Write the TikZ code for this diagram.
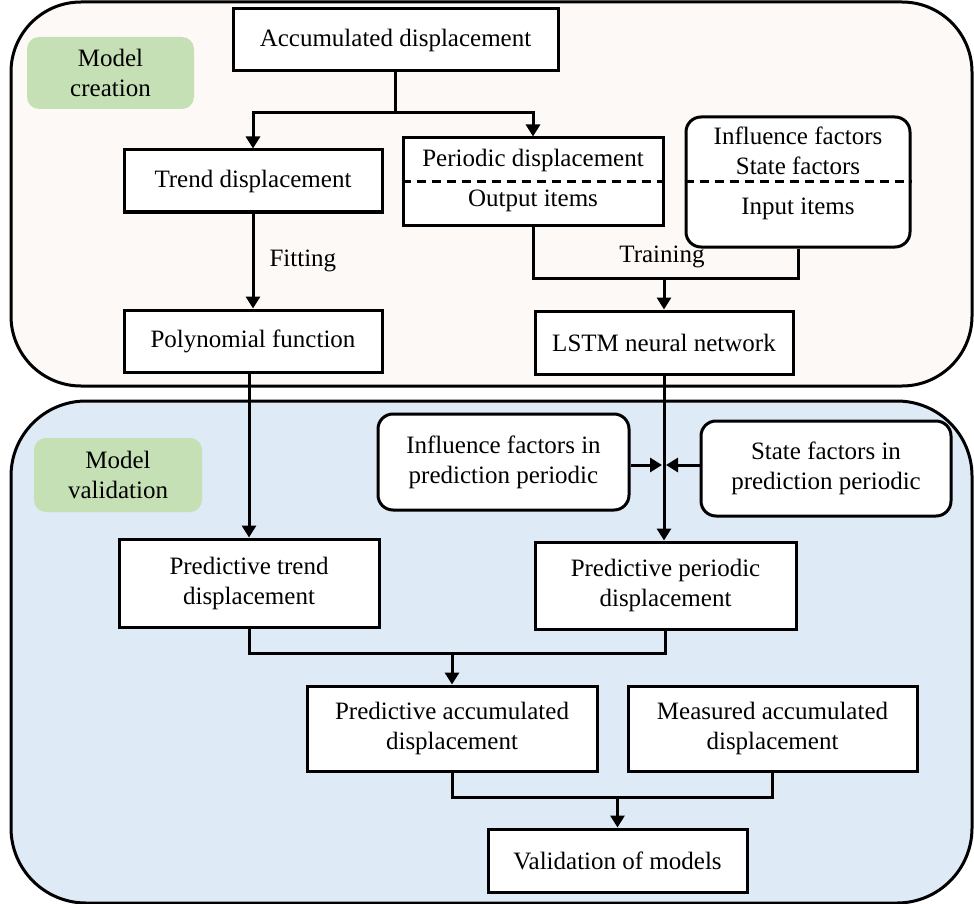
\documentclass[tikz,border=0pt]{standalone}
\usepackage{fontspec}
\setmainfont{Liberation Serif}
\usetikzlibrary{arrows.meta,calc}
\definecolor{topfill}{HTML}{FDF9F6}
\definecolor{botfill}{HTML}{DEEAF6}
\definecolor{tagfill}{HTML}{C5E0B4}
\begin{document}
\begin{tikzpicture}[x=1pt,y=-1pt, font=\fontsize{25}{30}\selectfont,
 box/.style={draw, line width=3pt, fill=white, inner sep=0pt, align=center},
 rbox/.style={box, rounded corners=15pt},
 tag/.style={fill=tagfill, rounded corners=12pt, inner sep=0pt, align=center},
 conn/.style={line width=3pt},
 arr/.style={conn, -{Triangle[width=14pt,length=12pt]}},
 sep/.style={conn, dash pattern=on 9pt off 6pt},
 lbl/.style={inner sep=0pt, align=center},
 ]
\useasboundingbox (0,0) rectangle (974,904);
% containers
\draw[line width=3pt, fill=topfill, rounded corners=70pt] (11,2) rectangle (972,386);
\draw[line width=3pt, fill=botfill, rounded corners=75pt] (11,401) rectangle (972,903);
% tags
\node[tag, minimum width=167pt, minimum height=72pt] (tagc) at (110.5,73) {Model\\creation};
\node[tag, minimum width=168pt, minimum height=74pt] (tagv) at (118,475) {Model\\validation};
% top nodes
\node[box, minimum width=325pt, minimum height=62pt] (acc) at (395.5,40) {Accumulated displacement};
\node[box, minimum width=258pt, minimum height=62pt] (trend) at (253,181) {Trend displacement};
\node[box, minimum width=260pt, minimum height=87pt] (per) at (533,181.5) {};
\draw[sep] (per.west |- 0,182) -- (per.east |- 0,182);
\node[lbl] (pertop) at (533,160) {Periodic displacement};
\node[lbl] (perbot) at (533,201) {Output items};
\node[rbox, minimum width=224pt, minimum height=130pt] (inp) at (798,182) {};
\draw[sep] (inp.west |- 0,182) -- (inp.east |- 0,182);
\node[lbl] (intop) at (798,151) {Influence factors\\State factors};
\node[lbl] (inbot) at (798,209) {Input items};
\node[box, minimum width=258pt, minimum height=62pt] (poly) at (253,341) {Polynomial function};
\node[box, minimum width=258pt, minimum height=63pt] (lstm) at (664,342.5) {LSTM neural network};
% bottom nodes
\node[rbox, minimum width=251pt, minimum height=96pt] (infl) at (503.5,462) {Influence factors in\\prediction periodic};
\node[rbox, minimum width=250pt, minimum height=95pt] (state) at (826,468.5) {State factors in\\prediction periodic};
\node[box, minimum width=260pt, minimum height=88pt] (ptrend) at (249,583) {Predictive trend\\displacement};
\node[box, minimum width=261pt, minimum height=87pt] (pper) at (665.5,585.5) {Predictive periodic\\displacement};
\node[box, minimum width=290pt, minimum height=85pt] (pacc) at (452,728.5) {Predictive accumulated\\displacement};
\node[box, minimum width=289pt, minimum height=85pt] (macc) at (772.5,728.5) {Measured accumulated\\displacement};
\node[box, minimum width=259pt, minimum height=63pt] (valid) at (617.5,860.5) {Validation of models};
% connectors top
\coordinate (j1) at (396,113);
\draw[conn] (acc.south) -- (acc.south |- j1);
\draw[arr] (acc.south |- j1) -| (trend.north);
\draw[arr] (acc.south |- j1) -| (per.north);
\draw[arr] (trend.south) -- (poly.north) node[lbl, midway, anchor=west, xshift=15pt] (fit) {Fitting};
\coordinate (j2) at (664,278);
\draw[conn] (per.south) |- (inp.south |- j2) -- (inp.south);
\draw[arr] (lstm.north |- j2) -- (lstm.north);
\node[lbl] (train) at (662,257) {Training};
% connectors bottom
\draw[arr] (ptrend.north |- poly.south) -- (ptrend.north);
\draw[arr] (lstm.south) -- (lstm.south |- pper.north);
\coordinate (m) at (664,465);
\draw[arr] (infl.east |- m) -- ([xshift=-2pt]m);
\draw[arr] (state.west |- m) -- ([xshift=2pt]m);
\coordinate (j3) at (454,653);
\draw[conn] (ptrend.south) |- (pper.south |- j3) -- (pper.south);
\draw[arr] (pacc.north |- j3) -- (pacc.north);
\coordinate (j4) at (620,797);
\draw[conn] (pacc.south) |- (macc.south |- j4) -- (macc.south);
\draw[arr] (valid.north |- j4) -- (valid.north);
\end{tikzpicture}
\end{document}
